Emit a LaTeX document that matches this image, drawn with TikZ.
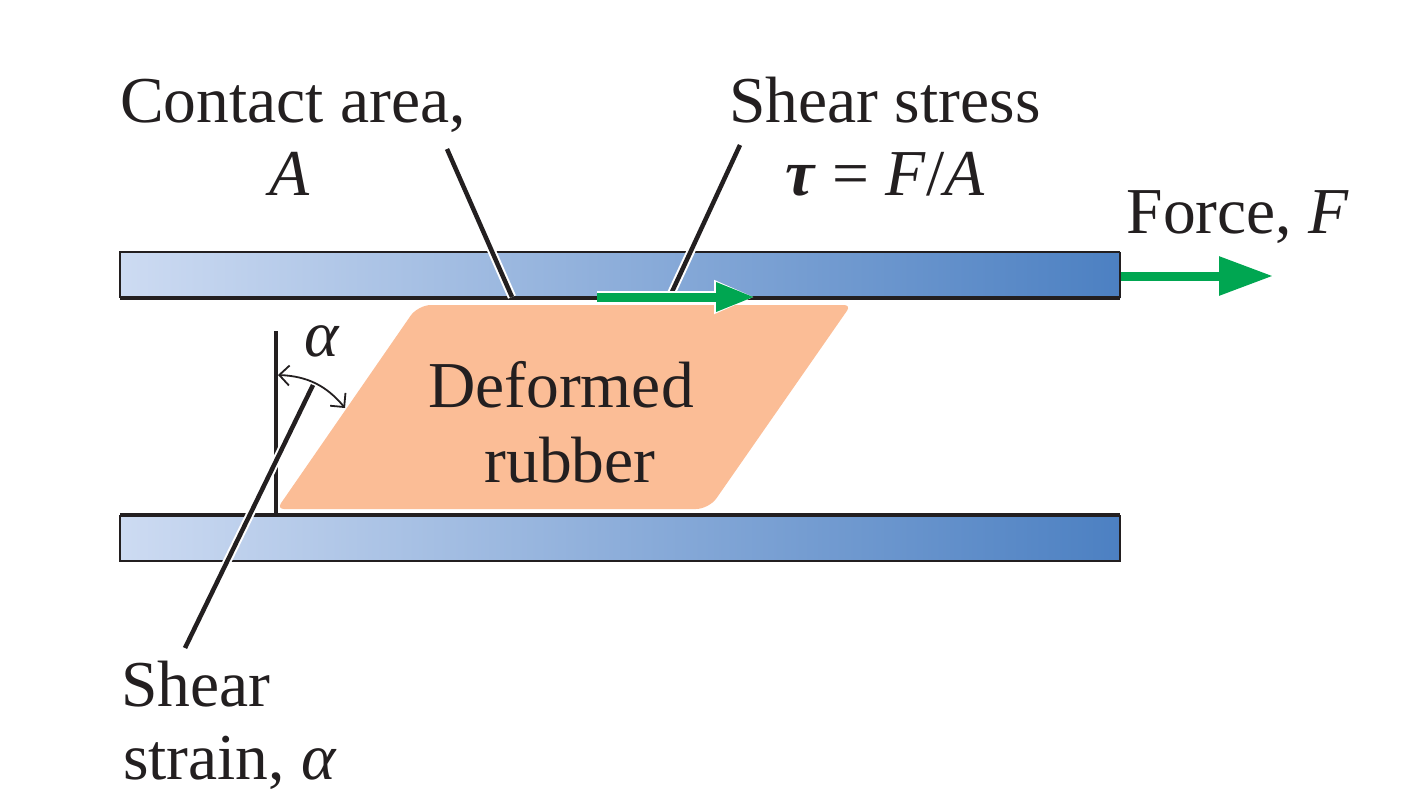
\documentclass[tikz,border=0pt]{standalone}
\usepackage{fontspec}
\setmainfont{Liberation Serif}
\usetikzlibrary{calc, arrows.meta}

\definecolor{platelight}{HTML}{CDDBF2}
\definecolor{platedark}{HTML}{4C80C2}
\definecolor{rubber}{HTML}{FBBD96}
\definecolor{forcegreen}{HTML}{00A651}
\definecolor{inkblack}{HTML}{231F20}

\tikzset{
	txt/.style = {anchor = base, inner sep = 0pt, text = inkblack, font = \fontsize{65.5}{78}\selectfont},
	leader/.style = {draw = inkblack, line width = 4.5pt, preaction = {draw = white, line width = 8.5pt}},
	force/.style = {draw = forcegreen, line width = 9pt, -{Triangle[length = 39pt, width = 27pt, fill = forcegreen]}},
	barbs/.style = {draw = inkblack, line width = 1.8pt, {Straight Barb[length = 10pt, width = 20pt]}-{Straight Barb[length = 10pt, width = 20pt]}}
}

\begin{document}
\begin{tikzpicture}[x = 1pt, y = -1pt]
		\useasboundingbox (0,0) rectangle (1416,808);
		
		\coordinate (top1) at (120,252);
		\coordinate (top2) at (1120,298);
		\coordinate (bot1) at (120,515);
		\coordinate (bot2) at (1120,561);
		
		% plates
		\fill [left color = platelight, right color = platedark] (top1) rectangle (top2);
		\fill [left color = platelight, right color = platedark] (bot1) rectangle (bot2);
		\draw [inkblack, line width = 2pt] (top2 |- top1) -- (top1) -- (top1 |- top2);
		\draw [inkblack, line width = 2pt] (top2 |- top1) -- (top2);
		\draw [inkblack, line width = 4.5pt] (top1 |- top2) -- (top2);
		\draw [inkblack, line width = 4.5pt] (bot1) -- (bot2 |- bot1);
		\draw [inkblack, line width = 2pt] (bot1) -- (bot1 |- bot2) -- (bot2) -- (bot2 |- bot1);
		
		% rubber
		\fill [rubber] (500,509) [rounded corners = 7pt] -- (277,509) [rounded corners = 13pt] -- (418,305) [rounded corners = 7pt] -- (851,305) [rounded corners = 13pt] -- (709,509) [sharp corners] -- cycle;
		
		\node [txt] (deformed) at (561,407) {Deformed};
		\node [txt] (rubbertxt) at (570,482) {rubber};
		
		% strain
		\coordinate (v1) at (276,331);
		\coordinate (v2) at (276,515);
		\coordinate (arc1) at (278,375);
		\coordinate (arc2) at (345,408);
		\coordinate (s1) at (185,648);
		\coordinate (s2) at (313,385);
		
		\draw [inkblack, line width = 4pt] (v1) -- (v2);
		\draw [barbs] (arc1) to [bend left = 24] (arc2);
		\draw [leader] (s1) -- (s2);
		\node [txt] (alpha) at (322,356) {\textit{α}};
		\node [txt] (shear) at (196,706) {Shear};
		\node [txt] (strain) at (230,779) {strain, \textit{α}};
		
		% contact area
		\coordinate (c1) at (447,149);
		\coordinate (c2) at (512,297);
		\draw [leader] (c1) -- (c2);
		\node [txt] (contact) at (293,122) {Contact area,};
		\node [txt] (area) at (290,195) {\textit{A}};
		
		% stress
		\coordinate (st1) at (740,145);
		\coordinate (st2) at (671,294);
		\coordinate (f1) at (597,297);
		\coordinate (f2) at (755,297);
		\draw [leader] (st1) -- (st2);
		\draw [force, preaction = {draw = white, line width = 12pt, -{Triangle[length = 41pt, width = 31pt, fill = white]}}] (f1) -- (f2);
		\node [txt] (stress) at (885,122) {Shear stress};
		\node [txt] (tau) at (885,195) {\textbf{\textit{τ}} = \textit{F}/\textit{A}};
		
		% force
		\coordinate (g1) at (1121,276);
		\coordinate (g2) at (1273,276);
		\draw [force, -{Triangle[length = 54pt, width = 37pt, fill = forcegreen]}] (g1) -- (g2);
		\node [txt] (forcetxt) at (1238,233) {Force, \textit{F}};
	\end{tikzpicture}
\end{document}
